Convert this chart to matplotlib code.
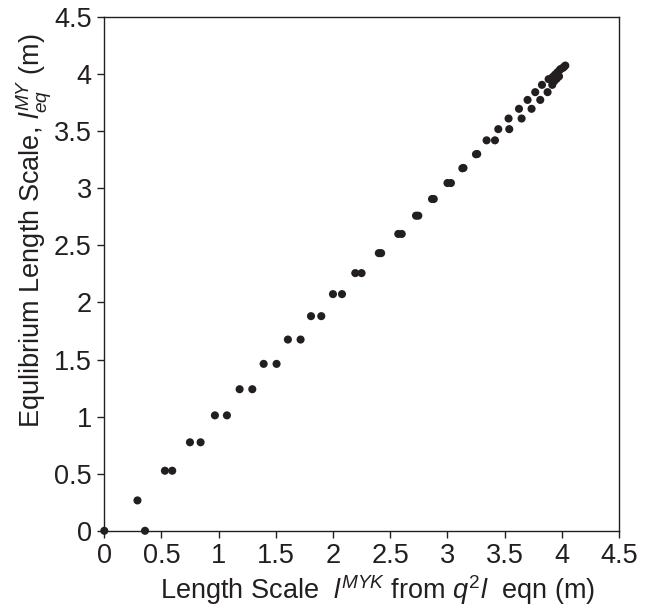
import matplotlib
matplotlib.use("Agg")
import matplotlib.pyplot as plt

plt.rcParams["font.family"] = ["Liberation Sans", "DejaVu Sans"]
plt.rcParams["mathtext.fontset"] = "custom"
plt.rcParams["mathtext.rm"] = "Liberation Sans"
plt.rcParams["mathtext.it"] = "Liberation Sans:italic"

# length scale from q2l equation (x) vs equilibrium length scale (y)
l_myk = [0.0, 0.29, 0.356, 0.53, 0.594, 0.749, 0.842, 0.967, 1.072, 1.183, 1.294,
         1.393, 1.506, 1.605, 1.716, 1.807, 1.897, 1.999, 2.078, 2.194, 2.249,
         2.40, 2.42, 2.57, 2.60, 2.725, 2.745, 2.865, 2.88, 3.0, 3.03, 3.13, 3.14,
         3.249, 3.26, 3.342, 3.415, 3.444, 3.540, 3.534, 3.648, 3.625, 3.735,
         3.700, 3.811, 3.767, 3.875, 3.826, 3.916, 3.884, 3.92, 3.94, 3.96, 3.98,
         3.99, 4.01, 4.02, 4.03, 3.935, 3.955, 3.975]
l_eq_my = [0.0, 0.266, 0.0, 0.526, 0.526, 0.775, 0.775, 1.011, 1.011, 1.24, 1.24,
           1.462, 1.462, 1.675, 1.675, 1.88, 1.88, 2.073, 2.073, 2.257, 2.257,
           2.432, 2.432, 2.6, 2.6, 2.76, 2.76, 2.906, 2.906, 3.046, 3.046, 3.175, 3.178,
           3.298, 3.30, 3.42, 3.42, 3.518, 3.518, 3.611, 3.611, 3.696, 3.696,
           3.774, 3.774, 3.842, 3.842, 3.906, 3.906, 3.956, 3.975, 3.995, 4.015, 4.035,
           4.045, 4.055, 4.065, 4.075, 3.94, 3.96, 3.98]

ticks = [0, 0.5, 1, 1.5, 2, 2.5, 3, 3.5, 4, 4.5]
tick_labels = ["0", "0.5", "1", "1.5", "2", "2.5", "3", "3.5", "4", "4.5"]

fig = plt.figure(figsize=(6.6, 6.08), dpi=100)
ax = fig.add_axes([0.158, 0.127, 0.78, 0.845])

ax.scatter(l_myk, l_eq_my, s=34, color="#231f20", edgecolors="none", zorder=3,
           clip_on=False)

ax.set_xlim(0, 4.5)
ax.set_ylim(0, 4.5)
ax.set_xticks(ticks)
ax.set_xticklabels(tick_labels)
ax.set_yticks(ticks)
ax.set_yticklabels(tick_labels)
ax.tick_params(direction="out", length=5, width=1.0, labelsize=19.5, pad=4,
               colors="#231f20")
for sp in ax.spines.values():
    sp.set_linewidth(1.0)
    sp.set_color("#231f20")

ax.set_xlabel(r"Length Scale  $l^{MYK}$ from $q^{2}l$  eqn (m)", fontsize=19.5,
              color="#231f20")
ax.xaxis.set_label_coords(0.531, -0.082)
ax.set_ylabel(r"Equlibrium Length Scale, $l_{eq}^{MY}$ (m)", fontsize=19.5,
              color="#231f20")
ax.yaxis.set_label_coords(-0.097, 0.584)

fig.savefig("out.png", dpi=100)
